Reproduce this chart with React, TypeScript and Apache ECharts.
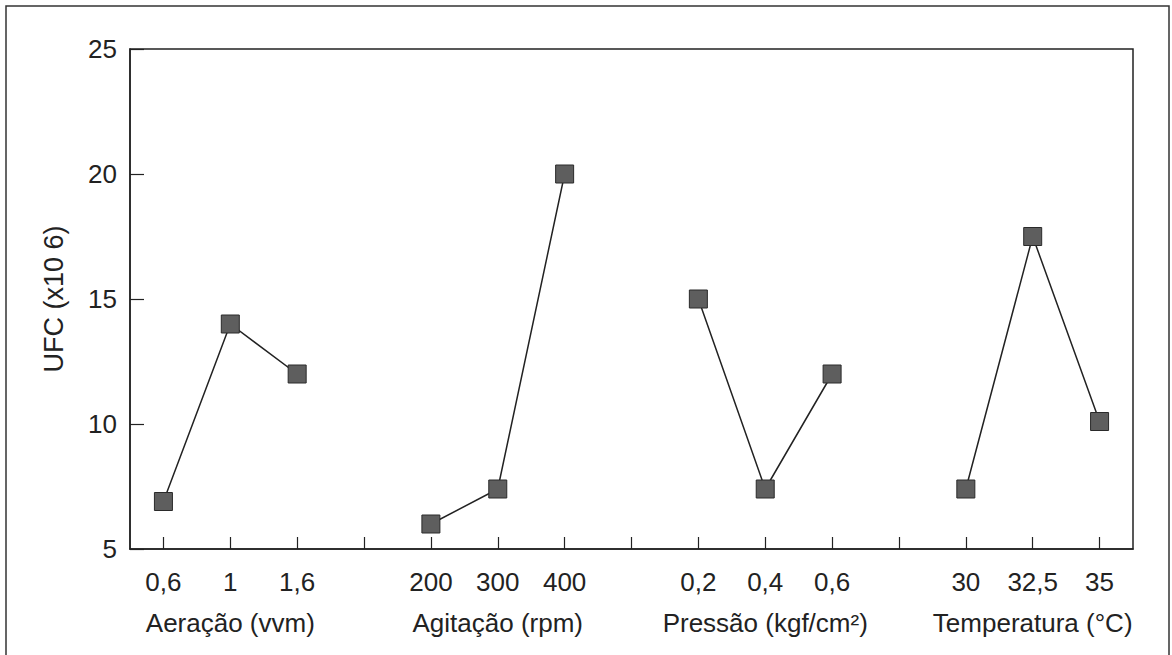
import React, { useEffect, useRef } from "react";
import * as echarts from "echarts";

// 15 slots on the x axis (4 groups separated by empty slots)
const slotKeys = ["s0","s1","s2","s3","s4","s5","s6","s7","s8","s9","s10","s11","s12","s13","s14"];
const tickLabels = ["0,6","1","1,6","","200","300","400","","0,2","0,4","0,6","","30","32,5","35"];
const groupLabels = ["","Aeração (vvm)","","","","Agitação (rpm)","","","","Pressão (kgf/cm²)","","","","Temperatura (°C)",""];

const aeracaoIdx = [0, 1, 2];
const aeracaoVal = [6.9, 14.0, 12.0];
const agitacaoIdx = [4, 5, 6];
const agitacaoVal = [6.0, 7.4, 20.0];
const pressaoIdx = [8, 9, 10];
const pressaoVal = [15.0, 7.4, 12.0];
const temperaturaIdx = [12, 13, 14];
const temperaturaVal = [7.4, 17.5, 10.1];

const yTicks = [5, 10, 15, 20, 25];
const yName = "UFC (x10 6)";

const FONT = "'Liberation Sans', Arial, Helvetica, sans-serif";
const INK = "#222";

function pairs(idx: number[], val: number[]) {
  return idx.map((i, k) => [i, val[k]]);
}

export default function App() {
  const ref = useRef<HTMLDivElement>(null);
  useEffect(() => {
    if (!ref.current) return;
    const chart = echarts.init(ref.current, undefined, { renderer: "svg" });
    const mkSeries = (idx: number[], val: number[]) => ({
      type: "line",
      data: pairs(idx, val),
      symbol: "rect",
      symbolSize: 18,
      lineStyle: { color: INK, width: 1.5 },
      itemStyle: { color: "#5e5e5e", borderColor: "#2a2a2a", borderWidth: 1 },
      z: 3,
    });
    chart.setOption({
      animation: false,
      backgroundColor: "#fff",
      textStyle: { fontFamily: FONT },
      grid: {
        left: 130,
        top: 49,
        right: 39,
        bottom: 106,
        show: true,
        borderColor: INK,
        borderWidth: 1.5,
        backgroundColor: "transparent",
      },
      graphic: [
        {
          type: "rect",
          shape: { x: 6, y: 6, width: 1163, height: 700 },
          style: { fill: "none", stroke: "#333", lineWidth: 1.5 },
          silent: true,
        },
      ],
      xAxis: [
        {
          type: "category",
          data: slotKeys,
          boundaryGap: true,
          axisLine: { show: true, lineStyle: { color: INK, width: 1.5 } },
          axisTick: {
            show: true,
            inside: true,
            length: 12,
            alignWithLabel: true,
            interval: 0,
            lineStyle: { color: INK, width: 1.2 },
          },
          axisLabel: {
            interval: 0,
            margin: 20,
            fontSize: 26,
            color: INK,
            fontFamily: FONT,
            formatter: (_v: string, i: number) => tickLabels[i],
          },
          splitLine: { show: false },
        },
        {
          type: "category",
          data: slotKeys,
          position: "bottom",
          boundaryGap: true,
          axisLine: { show: false },
          axisTick: { show: false },
          axisLabel: {
            interval: 0,
            margin: 61,
            fontSize: 26,
            color: INK,
            fontFamily: FONT,
            formatter: (_v: string, i: number) => groupLabels[i],
          },
          splitLine: { show: false },
        },
      ],
      yAxis: {
        type: "value",
        min: yTicks[0],
        max: yTicks[yTicks.length - 1],
        interval: 5,
        name: yName,
        nameLocation: "middle",
        nameRotate: 90,
        nameGap: 63,
        nameTextStyle: { fontSize: 27, color: INK, fontFamily: FONT },
        axisLine: { show: true, lineStyle: { color: INK, width: 1.5 } },
        axisTick: { show: true, inside: true, length: 14, lineStyle: { color: INK, width: 1.2 } },
        axisLabel: { margin: 13, fontSize: 26, color: INK, fontFamily: FONT },
        splitLine: { show: false },
      },
      series: [
        mkSeries(aeracaoIdx, aeracaoVal),
        mkSeries(agitacaoIdx, agitacaoVal),
        mkSeries(pressaoIdx, pressaoVal),
        mkSeries(temperaturaIdx, temperaturaVal),
      ],
    });
    return () => chart.dispose();
  }, []);
  return (
    <div
      ref={ref}
      style={{ position: "fixed", left: 0, top: 0, width: 1172, height: 655, background: "#fff" }}
    />
  );
}
